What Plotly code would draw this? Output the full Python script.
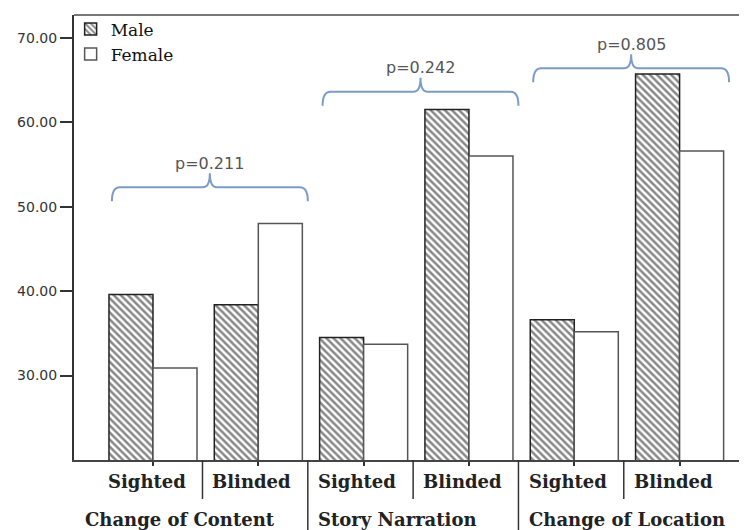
import plotly.graph_objects as go

# ---- data ----
conditions = ["Sighted", "Blinded", "Sighted", "Blinded", "Sighted", "Blinded"]
tasks = ["Change of Content", "Story Narration", "Change of Location"]
male = [39.6, 38.4, 34.5, 61.5, 36.6, 65.7]
female = [30.9, 48.0, 33.7, 56.0, 35.2, 56.6]
p_values = ["p=0.211", "p=0.242", "p=0.805"]
p_bracket_level = [52.3, 63.6, 66.4]
y_ticks = [30, 40, 50, 60, 70]

# page body has an 8px margin; compensate
OFF = 8
W, H = 747 - OFF, 530 - OFF
ML, MR, MT, MB = 74 - OFF, 0, 15 - OFF, 70
XMIN, XMAX = -0.75, 5.64
YMIN, YMAX = 20, 72.7
plot_h = H - MT - MB
plot_w = W - ML - MR
px_x = plot_w / (XMAX - XMIN)
px_y = plot_h / (YMAX - YMIN)

xpos = list(range(len(conditions)))

fig = go.Figure()
fig.add_trace(go.Bar(
    x=xpos, y=male, name="Male",
    marker=dict(color="white", line=dict(color="#222222", width=1.5),
                pattern=dict(shape="\\", fgcolor="#111111", bgcolor="white",
                             size=5, solidity=0.5)),
))
fig.add_trace(go.Bar(
    x=xpos, y=female, name="Female",
    marker=dict(color="white", line=dict(color="#555555", width=1.5)),
))

shapes = []
annotations = []

# top border
shapes.append(dict(type="line", xref="paper", yref="paper", x0=0, x1=1, y0=1, y1=1,
                   line=dict(color="#777777", width=2)))

# separators under x axis
for i in range(len(conditions) - 1):
    full = (i % 2 == 1)
    depth = 72 if full else 39
    shapes.append(dict(type="line", xref="x", yref="paper",
                       x0=i + 0.47, x1=i + 0.47, y0=0, y1=-depth / plot_h,
                       line=dict(color="#333333", width=1.5)))

# condition labels
for i, c in enumerate(conditions):
    annotations.append(dict(x=i - 0.06, y=-21 / plot_h, xref="x", yref="paper",
                            text=c, showarrow=False, xanchor="center", yanchor="middle",
                            font=dict(family="DejaVu Serif", size=18, color="#222222",
                                      weight="bold")))

# task labels
task_starts = [XMIN + 0.09, 1.47 + 0.08, 3.47 + 0.08]
for g, t in enumerate(tasks):
    annotations.append(dict(x=task_starts[g], y=-59 / plot_h, xref="x", yref="paper",
                            text=t, showarrow=False, xanchor="left", yanchor="middle",
                            font=dict(family="DejaVu Serif", size=18, color="#222222",
                                      weight="bold")))

# brackets with p-values
rx = 8 / px_x
tail = 14 / px_y
peak = 14 / px_y
prx = 7 / px_x
half = 0.93
for g, (pv, yh) in enumerate(zip(p_values, p_bracket_level)):
    xc = 2 * g + 0.5 + 0.04
    x0, x1 = xc - half, xc + half
    yt = yh - tail
    yp = yh + peak
    path = (f"M {x0},{yt} Q {x0},{yh} {x0 + rx},{yh} "
            f"L {xc - prx},{yh} Q {xc},{yh} {xc},{yp} "
            f"Q {xc},{yh} {xc + prx},{yh} "
            f"L {x1 - rx},{yh} Q {x1},{yh} {x1},{yt}")
    shapes.append(dict(type="path", xref="x", yref="y", path=path,
                       line=dict(color="#7b9cc9", width=2)))
    annotations.append(dict(x=xc, y=yh + 24 / px_y, xref="x", yref="y", text=pv,
                            showarrow=False, xanchor="center", yanchor="middle",
                            font=dict(family="DejaVu Sans", size=16, color="#555555")))

fig.update_layout(
    width=W, height=H,
    margin=dict(l=ML, r=MR, t=MT, b=MB, pad=0),
    plot_bgcolor="white", paper_bgcolor="white",
    barmode="group", bargap=0.164, bargroupgap=0,
    shapes=shapes, annotations=annotations,
    showlegend=True,
    legend=dict(x=-0.005, y=1.008, xanchor="left", yanchor="top",
                bgcolor="rgba(0,0,0,0)", tracegroupgap=0,
                font=dict(family="DejaVu Serif", size=17, color="#111111")),
    xaxis=dict(range=[XMIN, XMAX], tickvals=xpos, showticklabels=False,
               ticks="outside", ticklen=4, tickcolor="#333333", tickwidth=1.5,
               showline=True, linecolor="#444444", linewidth=2,
               showgrid=False, zeroline=False, fixedrange=True),
    yaxis=dict(range=[YMIN, YMAX], tickvals=y_ticks, tickformat=".2f",
               ticks="outside", ticklen=12, tickcolor="#333333", tickwidth=1.5,
               showline=True, linecolor="#333333", linewidth=2,
               showgrid=False, zeroline=False,
               tickfont=dict(family="DejaVu Sans", size=14, color="#333333")),
)

fig.write_html("out.html")
